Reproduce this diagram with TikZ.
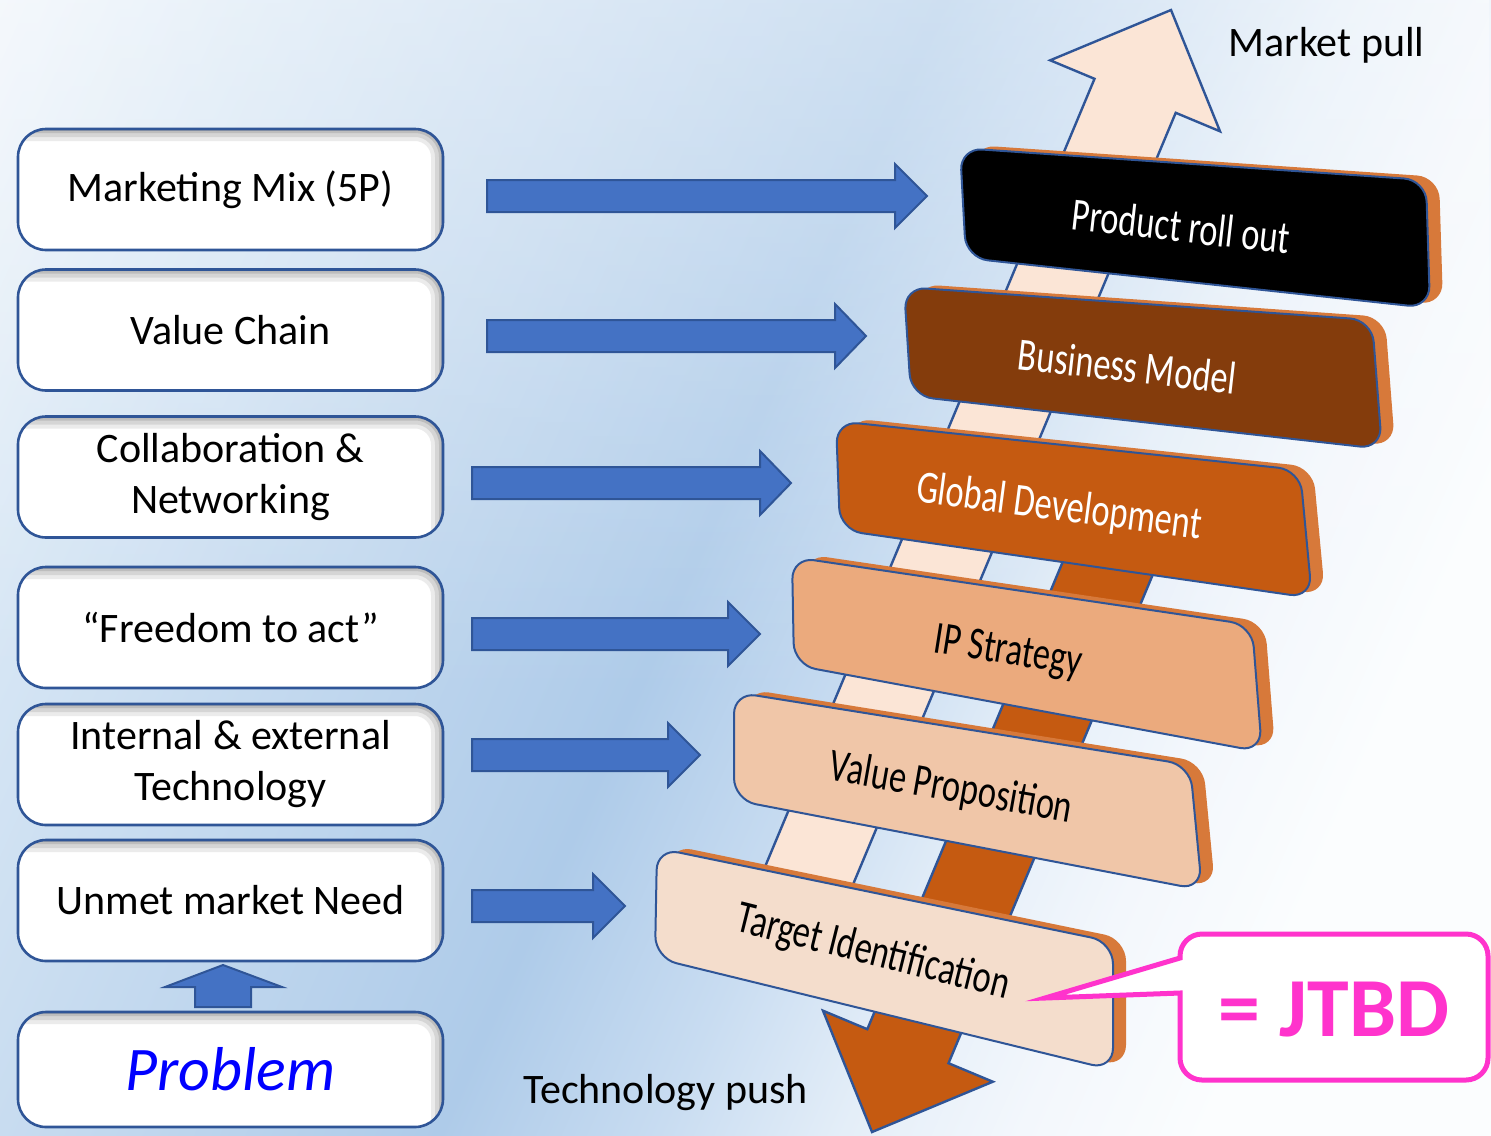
\documentclass[tikz,border=0pt]{standalone}
\usepackage{fontspec}
\setmainfont{Carlito}
\usetikzlibrary{fadings}
\definecolor{bdr}{HTML}{2F5597}
\definecolor{arrblue}{HTML}{4472C4}
\definecolor{peach}{HTML}{FBE5D6}
\definecolor{orng}{HTML}{C55A11}
\definecolor{sidec}{HTML}{D7793A}
\definecolor{fillBM}{HTML}{843C0C}
\definecolor{fillIP}{HTML}{EBAA7D}
\definecolor{fillVP}{HTML}{F0C6A8}
\definecolor{fillTI}{HTML}{F4DDCC}
\definecolor{mag}{HTML}{FF33CC}
\definecolor{probblue}{HTML}{0000FF}
\definecolor{bgA}{HTML}{EEF4FA}
\definecolor{bgB}{HTML}{D8E7F5}
\definecolor{bgC}{HTML}{C8DCF0}
\definecolor{bgD}{HTML}{AECBE9}
\definecolor{bgE}{HTML}{C8DCF1}
\definecolor{bgF}{HTML}{E4EEF8}
\definecolor{bgG}{HTML}{F3F7FC}
\definecolor{bgH}{HTML}{FBFDFE}
\pgfdeclarehorizontalshading{bgshade}{100bp}{color(0bp)=(bgA); color(25.7bp)=(bgA); color(32bp)=(bgB); color(38bp)=(bgC); color(48.7bp)=(bgD); color(54bp)=(bgE); color(58.5bp)=(bgF); color(62.8bp)=(bgG); color(67.3bp)=(bgH); color(100bp)=(bgH)}
\newcommand\harrow[4]{%
  \draw[barrow] (#1,#2-16) -- (#3,#2-16) -- (#3,#2-32) -- (#4,#2) -- (#3,#2+32) -- (#3,#2+16) -- (#1,#2+16) -- cycle;}
\newcommand\slantbox[5]{%
  \fill[sidec, rounded corners=11pt] ([shift={(13,-3)}]#2) -- ([shift={(13,-3)}]#3) -- ([shift={(13,-3)}]#4) -- ([shift={(13,-3)}]#5) -- cycle;
  \draw[bdr, line width=1pt, fill=#1, rounded corners=11pt] (#2) -- (#3) -- (#4) -- (#5) -- cycle;}
\newcommand\sq[1]{\scalebox{0.82}[1.1]{#1}}
\begin{document}
\begin{tikzpicture}[x=0.5pt, y=-0.5pt,
  barrow/.style={fill=arrblue, draw=bdr, line width=1pt},
  bigarrow/.style={draw=bdr, line width=1.2pt},
  lbox/.style={draw=bdr, line width=1.3pt, fill=white, rounded corners=14pt,
    minimum width=212.5pt, minimum height=60.5pt, align=center, inner sep=0pt,
    font=\fontsize{21}{25.5}\selectfont,
    path picture={
      \foreach \w/\o in {12pt/0.08,8pt/0.09,4pt/0.11,1.5pt/0.14}{
        \draw[black, draw opacity=\o, line width=\w, rounded corners=14pt]
          ([xshift=-30pt,yshift=-30pt]path picture bounding box.south west) rectangle (path picture bounding box.north east);}
    }},
  stext/.style={font=\fontsize{21}{25}\selectfont, inner sep=0pt},
  plain/.style={font=\fontsize{21}{25}\selectfont, inner sep=0pt}]
\useasboundingbox (0,0) rectangle (1491,1135);
% background
\begin{scope}
  \clip (0,0) rectangle (1491,1135);
  \shade[shading=bgshade, transform canvas={rotate around={-24:(745.5,567.5)}}] (-194.5,-372.5) rectangle (1685.5,1507.5);
\end{scope}
\fill[white, fill opacity=0.4, path fading=south] (0,0) rectangle (1491,700);

% big slanted arrows
\draw[bigarrow, fill=peach] (1171,10) -- (1220.0,131.3) -- (1175.7,112.8) -- (814.4,976.8) -- (733.2,942.8) -- (1094.5,78.8) -- (1050.2,60.3) -- cycle;
\draw[bigarrow, fill=orng] (872,1132) -- (823.0,1010.7) -- (867.3,1029.2) -- (1095.6,483.2) -- (1176.8,517.2) -- (948.5,1063.2) -- (992.8,1081.7) -- cycle;

% slanted boxes
\slantbox{black}{960,148}{1426,180}{1430,308}{966,258}
\node[stext, text=white, rotate=-6.5] (pro) at (1181,226) {\sq{Product roll out}};
\slantbox{fillBM}{904,287}{1372,320}{1382,449}{911,396}
\node[stext, text=white, rotate=-6.5] (bm) at (1127,366) {\sq{Business Model}};
\slantbox{orng}{836,421}{1300,470}{1312,598}{840,530}
\node[stext, text=white, rotate=-7.5] (gd) at (1059,508) {\sq{Global Development}};
\slantbox{fillIP}{792,557}{1252,625}{1262,752}{794,665}
\node[stext, rotate=-9] (ip) at (1008,653) {\sq{IP Strategy}};
\slantbox{fillVP}{734,692}{1190,765}{1202,890}{734,800}
\node[stext, rotate=-10] (vp) at (951,789) {\sq{Value Proposition}};
\slantbox{fillTI}{657,848}{1113,942}{1113,1070}{655,958}
\node[stext, rotate=-14] (ti) at (873,953) {\sq{Target Identification}};

% left boxes
\node[lbox] (mm) at (230.5,189.5) {Marketing Mix (5P)};
\node[lbox] (vc) at (230.5,330) {Value Chain};
\node[lbox] (cn) at (230.5,477) {Collaboration \&\\Networking};
\node[lbox] (fa) at (230.5,627.5) {“Freedom to act”};
\node[lbox] (ie) at (230.5,764.5) {Internal \& external\\Technology};
\node[lbox] (um) at (230.5,900.5) {Unmet market Need};
\node[lbox, minimum height=57.5pt, font=\fontsize{31}{36}\selectfont\itshape, text=probblue] (pb) at (230.5,1069.5) {Problem};

% horizontal blue arrows
\harrow{487}{196}{895}{927}
\harrow{487}{336}{835}{866}
\harrow{472}{483}{760}{791}
\harrow{472}{634}{728}{760}
\harrow{472}{755}{668}{700}
\harrow{472}{906}{593}{625}

% small up arrow
\draw[barrow] (195,1007) -- (195,987) -- (165,987) -- (223,965) -- (282,987) -- (251,987) -- (251,1007) -- cycle;

% labels
\node[plain, anchor=west] (mp) at (1228,45) {Market pull};
\node[plain, anchor=west] (tp) at (523,1093) {Technology push};

% callout
\draw[mag, line width=2.5pt, fill=white, line join=miter]
  (1180,958) -- (1180,956) arc[start angle=180, end angle=270, radius=22]
  -- (1466,934) arc[start angle=270, end angle=360, radius=22]
  -- (1488,1058) arc[start angle=0, end angle=90, radius=22]
  -- (1202,1080) arc[start angle=90, end angle=180, radius=22]
  -- (1180,993) -- (1045,998) -- cycle;
\node[inner sep=0pt, text=mag, font=\fontsize{42}{48}\selectfont\bfseries] (jtbd) at (1334,1010) {= JTBD};
\end{tikzpicture}
\end{document}
